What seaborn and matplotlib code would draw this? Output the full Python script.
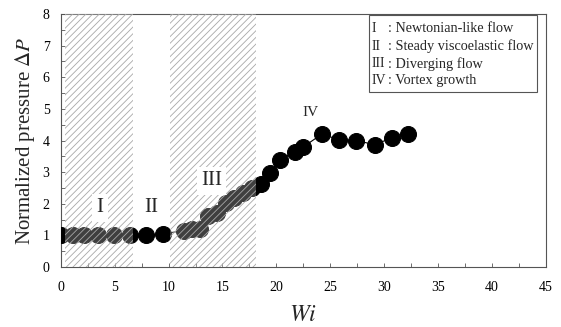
import numpy as np
import pandas as pd
import matplotlib
matplotlib.use("Agg")
import matplotlib.pyplot as plt
import seaborn as sns
from matplotlib.patches import Rectangle
from matplotlib.ticker import MultipleLocator

# ---- data ----
wi = [0.0, 1.1, 2.2, 3.5, 4.9, 6.4, 7.9, 9.5, 11.4, 12.2, 12.9, 13.7, 14.5,
      15.3, 16.1, 16.9, 17.7, 18.6, 19.4, 20.3, 21.7, 22.5, 24.2, 25.8,
      27.4, 29.1, 30.7, 32.2]
dp = [1.0, 1.0, 1.0, 1.0, 1.0, 1.0, 1.0, 1.05, 1.15, 1.2, 1.2, 1.6, 1.7,
      2.03, 2.17, 2.33, 2.49, 2.62, 2.97, 3.39, 3.65, 3.8, 4.2, 4.03,
      4.0, 3.87, 4.08, 4.2]

region_spans = [(0.4, 6.75), (10.15, 18.1)]
region_labels = ["I", "II", "III", "IV"]
region_label_x = [3.65, 8.4, 14.0, 23.2]
region_label_y = [1.87, 1.87, 2.72, 4.9]
legend_desc = ["Newtonian-like flow", "Steady viscoelastic flow",
               "Diverging flow", "Vortex growth"]
xticks = [0, 5, 10, 15, 20, 25, 30, 35, 40, 45]
yticks = [0, 1, 2, 3, 4, 5, 6, 7, 8]

sns.set_style("white")
plt.rcParams["font.family"] = ["Liberation Serif", "DejaVu Serif"]
plt.rcParams["mathtext.fontset"] = "stix"
plt.rcParams["hatch.linewidth"] = 0.6

fig = plt.figure(figsize=(5.61, 3.27), dpi=100)
ax = fig.add_axes([0.1082, 0.1835, 0.8651, 0.7735])

df = pd.DataFrame({"Wi": wi, "dP": dp})
sns.lineplot(data=df, x="Wi", y="dP", ax=ax, color="black", lw=0.8,
             marker="o", markersize=11.5, markeredgecolor="black",
             markerfacecolor="black", zorder=3)

for (a, b) in region_spans:
    ax.axvspan(a, b, facecolor=(1, 1, 1, 0.25), edgecolor="#a8a8a8",
               hatch="/////", lw=0, zorder=4)

for i, (lab, lx, ly) in enumerate(zip(region_labels, region_label_x, region_label_y)):
    if i < 3:
        ax.text(lx, ly, lab, fontsize=15, ha="center", va="center", zorder=6,
                bbox=dict(facecolor="white", edgecolor="none", pad=3))
    else:
        ax.text(lx, ly, lab, fontsize=11, ha="center", va="center", zorder=6)

ax.set_xlim(0, 45)
ax.set_ylim(0, 8)
ax.set_xticks(xticks)
ax.set_yticks(yticks)
ax.xaxis.set_minor_locator(MultipleLocator(2.5))
ax.yaxis.set_minor_locator(MultipleLocator(0.5))
ax.tick_params(axis="both", which="both", direction="in", length=3,
               width=0.6, colors="#555555", labelcolor="black", labelsize=10,
               top=False, right=False, bottom=True, left=True)
ax.tick_params(axis="x", which="major", pad=10)
ax.tick_params(axis="y", which="major", pad=8)

for sp in ax.spines.values():
    sp.set_color("#555555")
    sp.set_linewidth(0.8)

ax.set_xlabel("$Wi$", fontsize=17, labelpad=8)
ax.set_ylabel(r"Normalized pressure $\Delta P$", fontsize=15, labelpad=4)

# legend box
ax.add_patch(Rectangle((0.635, 0.692), 0.346, 0.306, transform=ax.transAxes,
                       facecolor="white", edgecolor="#555555", lw=0.8, zorder=7))
ly = [0.941, 0.872, 0.804, 0.736]
for lab, desc, yy in zip(region_labels, legend_desc, ly):
    ax.text(0.641, yy, lab, transform=ax.transAxes, fontsize=10,
            ha="left", va="center", zorder=8)
    ax.text(0.674, yy, ": " + desc, transform=ax.transAxes, fontsize=10.3,
            ha="left", va="center", zorder=8)

fig.savefig("out.png", dpi=100)
